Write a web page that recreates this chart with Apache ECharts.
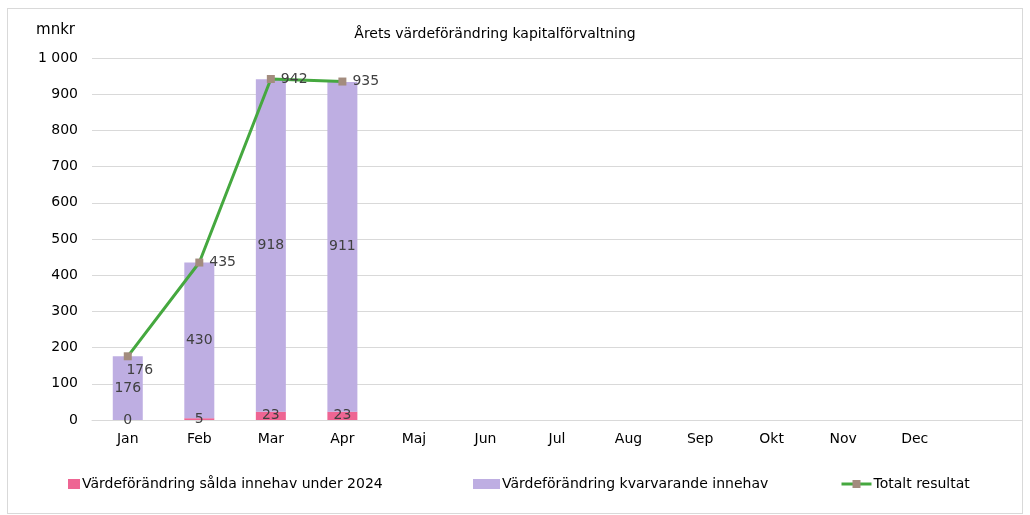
<!DOCTYPE html>
<html>
<head>
<meta charset="utf-8">
<script src="https://cdn.jsdelivr.net/npm/echarts@6/dist/echarts.min.js"></script>
<style>
  html, body { margin: 0; padding: 0; background: #fff; }
  #wrap { position: absolute; left: 7px; top: 8px; width: 1014px; height: 504px; border: 1px solid #d9d9d9; }
  #chart { position: absolute; left: 0; top: 0; width: 1030px; height: 515px; }
</style>
</head>
<body>
<div id="wrap"></div>
<div id="chart"></div>
<script>
// 数据
const months = ['Jan', 'Feb', 'Mar', 'Apr', 'Maj', 'Jun', 'Jul', 'Aug', 'Sep', 'Okt', 'Nov', 'Dec', ''];
const soldValues = [0, 5, 23, 23];
const remainingValues = [176, 430, 918, 911];
const totalValues = [176, 435, 942, 935];

const font = 'DejaVu Sans';
const fmt = v => String(v).replace(/\B(?=(\d{3})+(?!\d))/g, ' ');

const chart = echarts.init(document.getElementById('chart'));

const legendText = { fontFamily: font, fontSize: 14, color: '#000', padding: [0, 0, 0, -3] };

const option = {
  animation: false,
  textStyle: { fontFamily: font },
  title: {
    text: 'Årets värdeförändring kapitalförvaltning',
    left: 490, top: 22, textAlign: 'center',
    textStyle: { fontFamily: font, fontSize: 14, fontWeight: 'normal', color: '#000' }
  },
  grid: { left: 92, right: 8, top: 58, bottom: 95 },
  legend: [
    {
      data: ['Värdeförändring sålda innehav under 2024'],
      left: 63, top: 472, itemWidth: 12, itemHeight: 10, itemGap: 2,
      icon: 'rect', textStyle: legendText
    },
    {
      data: ['Värdeförändring kvarvarande innehav'],
      left: 468, top: 472, itemWidth: 27, itemHeight: 10,
      icon: 'rect', textStyle: legendText
    },
    {
      data: ['Totalt resultat'],
      left: 835, top: 472, itemWidth: 30, itemHeight: 10,
      lineStyle: { width: 3 },
      textStyle: legendText
    }
  ],
  xAxis: {
    type: 'category',
    data: months,
    axisTick: { show: false },
    axisLine: { lineStyle: { color: '#d9d9d9' } },
    axisLabel: { color: '#000', fontSize: 14, margin: 12 }
  },
  yAxis: {
    type: 'value',
    min: 0, max: 1000, interval: 100,
    name: 'mnkr',
    nameLocation: 'end',
    nameGap: 20,
    nameTextStyle: { color: '#000', fontSize: 15, align: 'right', padding: [0, 17, 0, 0] },
    axisLabel: { color: '#000', fontSize: 14, margin: 14, formatter: fmt },
    splitLine: { lineStyle: { color: '#d9d9d9', width: 1 } }
  },
  series: [
    {
      name: 'Värdeförändring sålda innehav under 2024',
      type: 'bar',
      stack: 'a',
      data: soldValues,
      barWidth: 30,
      itemStyle: { color: '#ee6593' },
      label: { show: true, position: 'inside', color: '#404040', fontSize: 14 }
    },
    {
      name: 'Värdeförändring kvarvarande innehav',
      type: 'bar',
      stack: 'a',
      data: remainingValues,
      barWidth: 30,
      itemStyle: { color: '#beaee2' },
      label: { show: true, position: 'inside', color: '#404040', fontSize: 14 }
    },
    {
      name: 'Totalt resultat',
      type: 'line',
      data: totalValues.map((v, i) => i === 0
        ? { value: v, label: { position: 'bottom', offset: [12, -3] } }
        : { value: v }),
      symbol: 'rect',
      symbolSize: 8,
      itemStyle: { color: '#a38c7e' },
      lineStyle: { color: '#45a83f', width: 3 },
      label: { show: true, position: 'right', color: '#404040', fontSize: 14, distance: 6 },
      z: 5
    }
  ]
};

chart.setOption(option);
</script>
</body>
</html>
